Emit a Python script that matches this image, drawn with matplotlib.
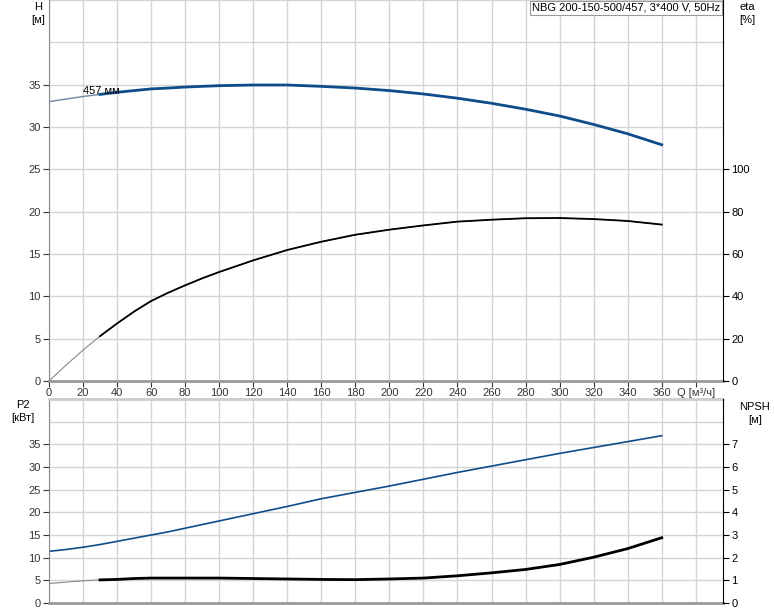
import matplotlib.pyplot as plt
import numpy as np

plt.rcParams['font.family'] = ['Liberation Sans', 'DejaVu Sans']

# flow, m3/h
q = np.array([0, 10, 20, 30, 40, 50, 60, 70, 80, 90, 100, 120, 140, 160, 180, 200, 220, 240,
              260, 280, 300, 320, 340, 360])
# head, m
h = np.array([33.0, 33.3, 33.6, 33.85, 34.1, 34.3, 34.5, 34.6, 34.72, 34.8, 34.88, 34.96,
              34.96, 34.8, 34.6, 34.3, 33.9, 33.4, 32.8, 32.1, 31.3, 30.3, 29.2, 27.9])
# efficiency, %
eta = np.array([0, 7.5, 14.6, 21.2, 27.2, 32.8, 37.8, 41.7, 45.2, 48.5, 51.5, 57.0, 61.9,
                65.8, 69.1, 71.5, 73.5, 75.3, 76.2, 76.9, 77.0, 76.5, 75.6, 73.9])
# shaft power, kW
p2 = np.array([11.4, 11.8, 12.3, 12.9, 13.6, 14.3, 15.0, 15.7, 16.5, 17.3, 18.1, 19.7, 21.3,
               23.0, 24.4, 25.8, 27.3, 28.8, 30.2, 31.6, 33.0, 34.3, 35.6, 36.9])
# NPSH, m
npsh = np.array([0.86, 0.92, 0.98, 1.02, 1.04, 1.08, 1.1, 1.1, 1.1, 1.1, 1.1, 1.08, 1.06,
                 1.04, 1.03, 1.06, 1.1, 1.2, 1.33, 1.48, 1.7, 2.02, 2.4, 2.88])

q_ticks = list(range(0, 361, 20))
q_grid = list(range(0, 381, 20))
title = "NBG 200-150-500/457, 3*400 V, 50Hz"
blue = '#0f4c8a'
grid_c = '#d4d4d4'

W, H = 774, 611
fig = plt.figure(figsize=(W / 100, H / 100), dpi=100)

x0, x1 = 49, 723
ax1 = fig.add_axes([x0 / W, 1 - 381 / H, (x1 - x0) / W, 381 / H])
ax2 = fig.add_axes([x0 / W, 1 - 603 / H, (x1 - x0) / W, 204 / H])

thick = q >= 30

for ax in (ax1, ax2):
    ax.set_xlim(0, 396)
    ax.set_ylim(0, 45)
    for v in q_grid:
        ax.axvline(v, color=grid_c, lw=1, zorder=0)
    for v in range(5, 46, 5):
        ax.axhline(v, color=grid_c, lw=1, zorder=0)
    ax.set_yticks(np.arange(0, 36, 5))
    ax.tick_params(axis='y', length=4, labelsize=8, pad=2, colors='#333333')
    ax.spines['top'].set_visible(False)
    ax.spines['right'].set_visible(False)
    ax.spines['left'].set_color('#888888')
    ax.spines['bottom'].set_color('#999999')
    ax.spines['bottom'].set_linewidth(2)

ax1.set_xticks(q_ticks + [380])
ax1.set_xticklabels([str(v) for v in q_ticks] + ['Q [м³/ч]'])
ax1.tick_params(axis='x', length=4, labelsize=8, pad=1, colors='#333333')
ax2.set_xticks([])
ax2.spines['top'].set_visible(True)
ax2.spines['top'].set_color('#cccccc')
ax2.spines['top'].set_linewidth(2)

# head curve
ax1.plot(q, h, color='#6f86a6', lw=1)
ax1.plot(q[thick], h[thick], color=blue, lw=2)
ax1.text(20, 34.3, "457 мм", fontsize=8, va='center', ha='left')

# efficiency on right axis
ax1r = ax1.twinx()
ax1r.set_ylim(0, 180)
ax1r.set_yticks(np.arange(0, 101, 20))
ax1r.tick_params(axis='y', length=4, labelsize=8, pad=2)
for s in ('top', 'left', 'bottom'):
    ax1r.spines[s].set_visible(False)
ax1r.spines['right'].set_color('black')
ax1r.plot(q, eta, color='#888888', lw=0.8)
ax1r.plot(q[thick], eta[thick], color='black', lw=1.3)

# power
ax2.plot(q, p2, color=blue, lw=1.2)

ax2r = ax2.twinx()
ax2r.set_ylim(0, 9)
ax2r.set_yticks(np.arange(0, 8, 1))
ax2r.tick_params(axis='y', length=4, labelsize=8, pad=2)
for s in ('top', 'left', 'bottom'):
    ax2r.spines[s].set_visible(False)
ax2r.spines['right'].set_color('black')
ax2r.plot(q, npsh, color='#888888', lw=0.8)
ax2r.plot(q[thick], npsh[thick], color='black', lw=2)

# axis titles
fig.text(38 / W, 1 - 7 / H, "H", fontsize=8, ha='center', va='center')
fig.text(38 / W, 1 - 20 / H, "[м]", fontsize=8, ha='center', va='center')
fig.text(747 / W, 1 - 7 / H, "eta", fontsize=8, ha='center', va='center')
fig.text(747 / W, 1 - 20 / H, "[%]", fontsize=8, ha='center', va='center')
fig.text(23 / W, 1 - 405 / H, "P2", fontsize=8, ha='center', va='center')
fig.text(23 / W, 1 - 418 / H, "[кВт]", fontsize=8, ha='center', va='center')
fig.text(755 / W, 1 - 407 / H, "NPSH", fontsize=8, ha='center', va='center')
fig.text(755 / W, 1 - 420 / H, "[м]", fontsize=8, ha='center', va='center')

fig.text(720 / W, 1 - 8 / H, title, fontsize=8, ha='right', va='center',
         bbox=dict(facecolor='white', edgecolor='#999999', boxstyle='square,pad=0.2', lw=0.8))

fig.savefig('out.png', dpi=100)
